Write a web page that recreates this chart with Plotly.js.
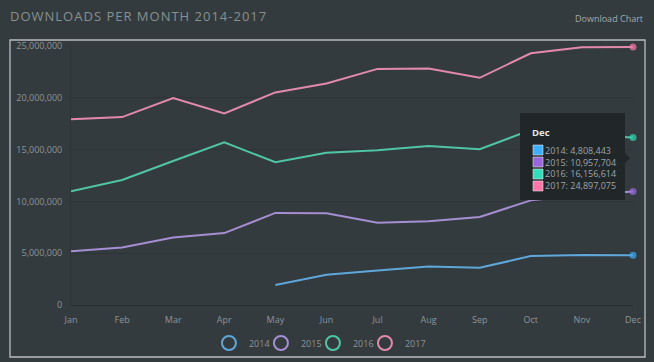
<!DOCTYPE html>
<html>
<head>
<meta charset="utf-8">
<script src="https://cdn.plot.ly/plotly-3.0.1.min.js"></script>
<style>
html,body{margin:0;padding:0;background:#343b3e;}
#chart{width:654px;height:362px;}
</style>
</head>
<body>
<div id="chart"></div>
<script>
const months = ["Jan","Feb","Mar","Apr","May","Jun","Jul","Aug","Sep","Oct","Nov","Dec"];
const seriesNames = ["2014","2015","2016","2017"];
const v2014 = [null,null,null,null,1930000,2920000,3340000,3720000,3590000,4720000,4820000,4808443];
const v2015 = [5200000,5550000,6510000,6940000,8890000,8860000,7930000,8090000,8500000,10100000,10600000,10957704];
const v2016 = [10980000,12070000,13900000,15700000,13780000,14700000,14930000,15350000,15030000,16900000,16400000,16156614];
const v2017 = [17920000,18140000,19970000,18500000,20520000,21390000,22790000,22830000,21930000,24300000,24880000,24897075];
const yTicks = [0,5000000,10000000,15000000,20000000,25000000];

const allValues = [v2014, v2015, v2016, v2017];
const lineColors = ["#5ea7da","#a68ed3","#4fc5a6","#e28aab"];
const dotColors = ["#3eaaf5","#9a6ee0","#2fd6b4","#f47aa8"];
const swatchColors = ["#3fb0ff","#9966dd","#33ddbb","#ff77aa"];

const fmt = n => n.toLocaleString("en-US");

// plot-area geometry helpers (pixels -> paper fractions)
const PL = 71, PR = 633, PT = 46, PB = 305;
const px = x => (x - PL) / (PR - PL);
const py = y => (PB - y) / (PB - PT);

const traces = [];
allValues.forEach((vals, i) => {
  const last = vals.length - 1;
  traces.push({
    type: "scatter", mode: "lines+markers",
    x: months, y: vals, name: seriesNames[i],
    line: {color: lineColors[i], width: 2},
    marker: {color: dotColors[i], size: vals.map((v, k) => k === last ? 7 : 0), line: {width: 0}},
    cliponaxis: false, showlegend: false, hoverinfo: "skip"
  });
});
allValues.forEach((vals, i) => {
  traces.push({
    type: "scatter", mode: "markers",
    x: [null], y: [null], name: seriesNames[i],
    marker: {symbol: "circle-open", size: 14, color: lineColors[i], line: {width: 2, color: lineColors[i]}},
    showlegend: true, hoverinfo: "skip"
  });
});

const lastIdx = months.length - 1;
const tipLines = allValues.map((vals, i) =>
  seriesNames[i] + ": " + fmt(vals[lastIdx])
).join("<br>");

const shapes = [
  {type: "rect", xref: "paper", yref: "paper", x0: px(10), x1: px(645), y0: py(357), y1: py(40),
   line: {color: "#b9bdbf", width: 1.3}, fillcolor: "rgba(0,0,0,0)", layer: "below"},
  {type: "rect", xref: "paper", yref: "paper", x0: px(520), x1: px(625), y0: py(200), y1: py(113),
   line: {width: 0}, fillcolor: "#212628", layer: "above"},
  {type: "path", xref: "paper", yref: "paper",
   path: "M " + px(625) + " " + py(153) + " L " + px(630) + " " + py(158) + " L " + px(625) + " " + py(163) + " Z",
   line: {width: 0}, fillcolor: "#212628", layer: "above"}
];
swatchColors.forEach((c, i) => {
  const cy = 150 + 12 * i;
  shapes.push({type: "rect", xref: "paper", yref: "paper",
    x0: px(533), x1: px(543), y0: py(cy + 5), y1: py(cy - 5),
    line: {color: "rgba(235,235,235,0.55)", width: 1}, fillcolor: c, layer: "above"});
});

const layout = {
  width: 654, height: 362,
  paper_bgcolor: "#343b3e", plot_bgcolor: "#343b3e",
  margin: {l: PL, r: 654 - PR, t: PT, b: 362 - PB, autoexpand: false},
  font: {family: "Open Sans, sans-serif", color: "#8c9498", size: 9},
  title: {
    text: "DOWNLOADS PER MONTH 2014-2017",
    x: 10 / 654, xanchor: "left", xref: "container",
    y: 1 - 16 / 362, yanchor: "middle", yref: "container",
    font: {family: "Open Sans, sans-serif", size: 13, color: "#86908f"}
  },
  xaxis: {
    type: "category", range: [0, 11], showgrid: false, zeroline: false,
    showline: false, ticks: "", ticklabelstandoff: 8, tickfont: {size: 9, color: "#8c9498"},
    fixedrange: true
  },
  yaxis: {
    range: [0, 25000000], tickvals: yTicks, ticktext: yTicks.map(fmt),
    showgrid: true, gridcolor: "#2d3336", gridwidth: 1,
    zeroline: true, zerolinecolor: "#2a2f32", zerolinewidth: 1,
    showline: true, linecolor: "#2d3336", linewidth: 1,
    ticks: "", ticklabelstandoff: 6, tickfont: {size: 9, color: "#8c9498"},
    fixedrange: true
  },
  showlegend: true,
  legend: {
    orientation: "h", x: 0.4305, xanchor: "center",
    yref: "container", y: 1 - 343 / 362, yanchor: "middle",
    font: {size: 9, color: "#8c9498"}, bgcolor: "rgba(0,0,0,0)",
    itemwidth: 30, entrywidth: 7, entrywidthmode: "pixels"
  },
  shapes: shapes,
  annotations: [
    {xref: "paper", yref: "paper", x: px(645), y: py(18), xanchor: "right", yanchor: "middle",
     text: "Download Chart", showarrow: false, font: {size: 9, color: "#a3a9ac"}},
    {xref: "paper", yref: "paper", x: px(530), y: py(132), xanchor: "left", yanchor: "middle",
     text: "<b>" + months[lastIdx] + "</b>", showarrow: false, font: {size: 9.5, color: "#e4e6e7"}},
    {xref: "paper", yref: "paper", x: px(543), y: py(168), xanchor: "left", yanchor: "middle",
     text: tipLines, showarrow: false, align: "left", font: {size: 9, color: "#9ea5a8"}}
  ]
};

Plotly.newPlot("chart", traces, layout, {displayModeBar: false, staticPlot: true}).then(() => {
  const t = document.querySelector(".gtitle");
  if (t) t.style.letterSpacing = "1px";
  document.querySelectorAll(".legend .scrollbox").forEach(el => el.removeAttribute("clip-path"));
});
</script>
</body>
</html>
